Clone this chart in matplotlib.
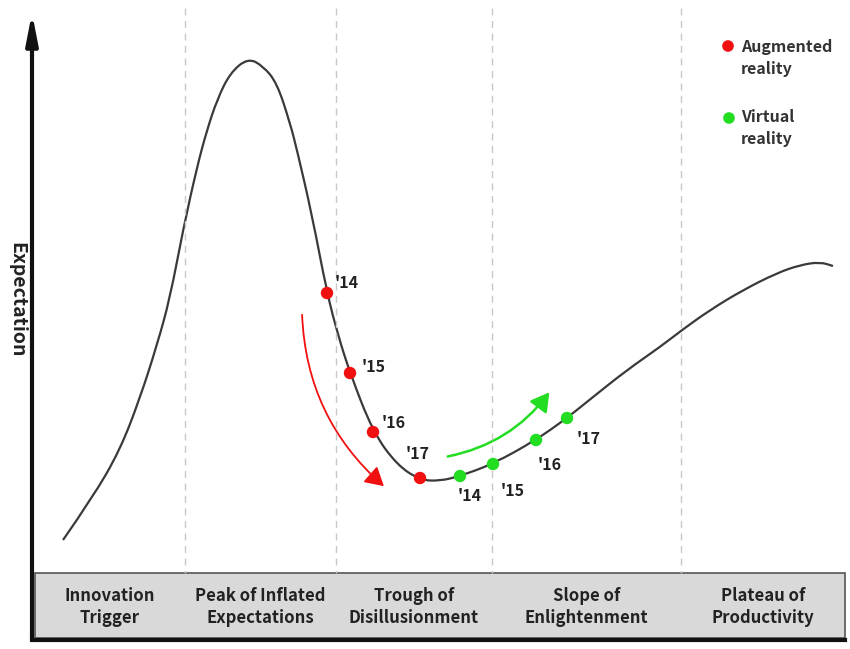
import numpy as np
import matplotlib.pyplot as plt
from matplotlib.patches import FancyArrowPatch, Rectangle, PathPatch
from matplotlib.path import Path

plt.rcParams['font.family'] = ['Noto Sans CJK KR', 'DejaVu Sans']

# hype curve (x = time, y = expectation, picture units)
curve_x = [63, 93, 120, 140, 157, 170, 183, 197, 207, 217, 230, 248, 263, 277,
           290, 297, 312, 327, 338, 350, 373, 397, 420, 440, 460, 493, 536,
           567, 593, 627, 660, 682, 710, 743, 777, 800, 820, 833]
curve_y = [540, 497, 450, 398, 345, 298, 230, 167, 130, 100, 73, 58, 66, 83,
           123, 150, 215, 293, 335, 373, 432, 465, 480, 481, 476, 464, 440,
           418, 397, 370, 347, 330, 310, 290, 273, 265, 262, 266]

years = ["'14", "'15", "'16", "'17"]
ar_x = [327, 350, 373, 420]
ar_y = [293, 373, 432, 478]
vr_x = [460, 493, 536, 567]
vr_y = [476, 464, 440, 418]

phase_edges = [35, 185, 336, 492, 681, 845]
phases = ["Innovation\nTrigger", "Peak of Inflated\nExpectations",
          "Trough of\nDisillusionment", "Slope of\nEnlightenment",
          "Plateau of\nProductivity"]

RED = '#f01010'
GREEN = '#22dd22'

fig = plt.figure(figsize=(8.5, 6.49), dpi=100)
ax = fig.add_axes([0, 0, 1, 1])
ax.set_xlim(0, 850)
ax.set_ylim(649, 0)
ax.axis('off')

# phase separators
for x in phase_edges[1:-1]:
    ax.plot([x, x], [8, 573], ls=(0, (5, 4)), color='#c8c8c8', lw=1)

# phase band at the bottom
ax.add_patch(Rectangle((35, 573), 810, 65, facecolor='#d9d9d9',
                       edgecolor='#555555', lw=1.2))
for i, name in enumerate(phases):
    cx = (phase_edges[i] + phase_edges[i + 1]) / 2
    ax.text(cx, 607, name, ha='center', va='center', fontsize=12,
            fontweight='bold', color='#222222', linespacing=1.25)

# axes arrows
ax.annotate('', xy=(32, 10), xytext=(32, 641),
            arrowprops=dict(arrowstyle='-|>,head_length=1.8,head_width=0.35',
                            color='#111111', lw=3))
ax.plot([32, 845], [640, 640], color='#111111', lw=3)
ax.text(17, 300, 'Expectation', rotation=-90, ha='center', va='center',
        fontsize=14, fontweight='bold', color='#222222')

# the curve, drawn as a smooth quadratic path through the read points
pts = np.column_stack([curve_x, curve_y]).astype(float)
verts = [pts[0]]
codes = [Path.MOVETO]
for i in range(1, len(pts) - 1):
    mid = (pts[i] + pts[i + 1]) / 2
    verts += [pts[i], mid]
    codes += [Path.CURVE3, Path.CURVE3]
verts.append(pts[-1])
codes.append(Path.LINETO)
ax.add_patch(PathPatch(Path(verts, codes), facecolor='none',
                       edgecolor='#3a3a3a', lw=1.6))

# trend arrows
ax.add_patch(FancyArrowPatch((302, 312), (386, 488),
                             connectionstyle='arc3,rad=0.22',
                             arrowstyle='-|>,head_length=7,head_width=4',
                             color=RED, lw=1.3, mutation_scale=1.6))
ax.add_patch(FancyArrowPatch((445, 457), (551, 390),
                             connectionstyle='arc3,rad=0.2',
                             arrowstyle='-|>,head_length=7,head_width=4',
                             color=GREEN, lw=1.8, mutation_scale=1.6))

# year points
ax.scatter(ar_x, ar_y, s=80, color=RED, zorder=5, edgecolor='none')
ax.scatter(vr_x, vr_y, s=80, color=GREEN, zorder=5, edgecolor='none')

ar_off = [(8, -10), (12, -6), (9, -9), (-14, -24)]
vr_off = [(-2, 20), (8, 27), (2, 25), (10, 21)]
for i, yr in enumerate(years):
    ax.text(ar_x[i] + ar_off[i][0], ar_y[i] + ar_off[i][1], yr, fontsize=11.5,
            fontweight='bold', color='#222222', va='center')
    ax.text(vr_x[i] + vr_off[i][0], vr_y[i] + vr_off[i][1], yr, fontsize=11.5,
            fontweight='bold', color='#222222', va='center')

# legend
ax.scatter([728], [46], s=70, color=RED, edgecolor='none')
ax.scatter([729], [118], s=70, color=GREEN, edgecolor='none')
ax.text(741, 58, 'Augmented\nreality', fontsize=11.5, fontweight='bold',
        color='#333333', va='center', linespacing=1.45)
ax.text(741, 128, 'Virtual\nreality', fontsize=11.5, fontweight='bold',
        color='#333333', va='center', linespacing=1.45)

fig.savefig('out.png', dpi=100)
